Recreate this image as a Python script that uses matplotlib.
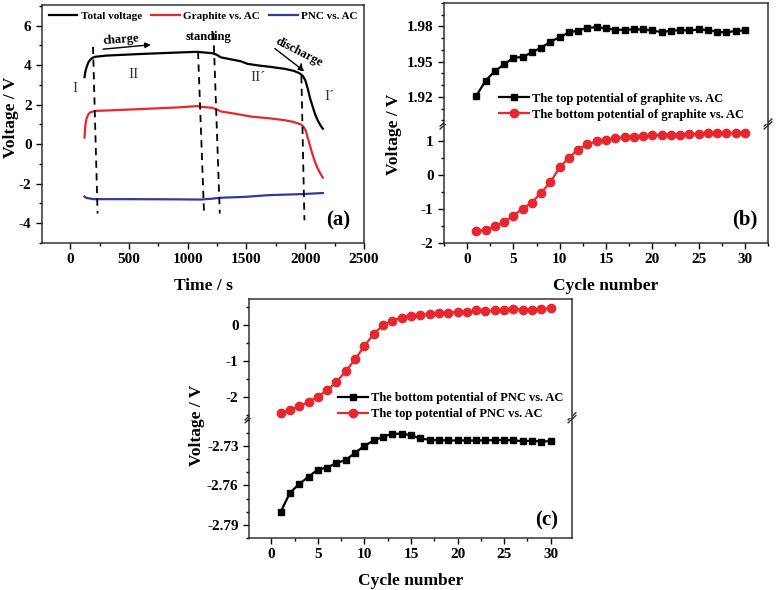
import matplotlib.pyplot as plt
import numpy as np
from matplotlib.ticker import MultipleLocator

plt.rcParams['font.family'] = ['Liberation Serif', 'DejaVu Serif']
plt.rcParams['font.weight'] = 'bold'
plt.rcParams['axes.labelweight'] = 'bold'
plt.rcParams['axes.unicode_minus'] = False

RED = '#e8262d'
BLUE = '#2e3b9c'

# ---- data (a): voltage profile during one cycle
total_t = [122, 130, 142, 155, 171, 190, 214, 313, 600, 900, 1082, 1110, 1210, 1250, 1281,
           1350, 1452, 1509, 1600, 1700, 1822, 1900, 1950, 1980, 2000, 2022, 2040, 2064,
           2085, 2107, 2130, 2150]
total_v = [3.40, 3.70, 3.95, 4.15, 4.28, 4.38, 4.43, 4.49, 4.57, 4.64, 4.68, 4.66, 4.61, 4.52,
           4.40, 4.32, 4.20, 4.07, 3.99, 3.92, 3.82, 3.72, 3.60, 3.45, 3.25, 2.80, 2.35, 1.89,
           1.50, 1.20, 0.95, 0.79]
graph_t = [122, 128, 135, 142, 155, 171, 214, 313, 600, 900, 1082, 1110, 1210, 1250, 1281,
           1400, 1538, 1700, 1822, 1900, 1965, 1990, 2007, 2020, 2036, 2057, 2078, 2100,
           2121, 2140, 2150]
graph_v = [0.34, 0.90, 1.20, 1.35, 1.52, 1.62, 1.69, 1.71, 1.78, 1.86, 1.93, 1.90, 1.84, 1.76,
           1.66, 1.55, 1.40, 1.31, 1.22, 1.13, 1.00, 0.85, 0.65, 0.35, 0.03, -0.42, -0.81,
           -1.15, -1.40, -1.60, -1.69]
pnc_t = [122, 140, 199, 500, 900, 1110, 1200, 1281, 1500, 1680, 1993, 2050, 2150]
pnc_v = [-2.65, -2.72, -2.78, -2.78, -2.79, -2.80, -2.76, -2.71, -2.66, -2.58, -2.52, -2.50, -2.47]

# dashed boundaries (top point, bottom point)
dash_t = [(194, 233), (1088, 1139), (1219, 1273), (1965, 1993)]
dash_v = [(4.93, -3.51), (4.68, -3.51), (5.64, -3.51), (4.09, -3.85)]

# ---- data (b), (c): cycling
cycles = np.arange(1, 31)
graph_top = [1.921, 1.934, 1.942, 1.9478, 1.9534, 1.954, 1.958, 1.962, 1.967, 1.971,
             1.975, 1.9765, 1.979, 1.9793, 1.9785, 1.9772, 1.9772, 1.9775, 1.9775, 1.9766,
             1.9752, 1.9763, 1.9769, 1.9766, 1.9775, 1.9769, 1.9755, 1.9749, 1.9763, 1.9766]
graph_bottom = [-1.67, -1.62, -1.52, -1.38, -1.21, -1.00, -0.82, -0.53, -0.22, 0.22,
                0.50, 0.74, 0.90, 0.98, 1.03, 1.07, 1.10, 1.12, 1.14, 1.16,
                1.16, 1.17, 1.18, 1.19, 1.20, 1.23, 1.22, 1.22, 1.23, 1.24]
pnc_top = [-2.45, -2.37, -2.27, -2.15, -2.00, -1.82, -1.59, -1.29, -0.96, -0.59,
           -0.25, -0.01, 0.12, 0.20, 0.25, 0.28, 0.30, 0.34, 0.34, 0.36,
           0.37, 0.40, 0.39, 0.40, 0.41, 0.45, 0.42, 0.42, 0.45, 0.46]
pnc_bottom = [-2.7803, -2.7656, -2.759, -2.7534, -2.748, -2.7465, -2.743, -2.7407, -2.7353, -2.730,
              -2.7259, -2.7231, -2.7208, -2.7208, -2.7219, -2.7244, -2.7254, -2.7257, -2.7259, -2.7259,
              -2.7259, -2.7259, -2.7257, -2.7257, -2.7254, -2.7259, -2.7264, -2.7262, -2.7267, -2.7264]

W, H = 777, 590
fig = plt.figure(figsize=(W / 100, H / 100), dpi=100)


def box(l, t, r, b):
    return [l / W, 1 - b / H, (r - l) / W, (b - t) / H]


def style(ax):
    for s in ax.spines.values():
        s.set_linewidth(1.1)
        s.set_color('#333333')
    ax.tick_params(which='both', direction='out', top=False, right=False, labelsize=11)
    ax.tick_params(which='major', length=4, width=1)
    ax.tick_params(which='minor', length=2.5, width=1)


def breakmarks(ax, y):
    for x in (0, 1):
        for dy in (-0.012, 0.012):
            ax.plot([x - 0.012, x + 0.012], [y + dy - 0.03, y + dy + 0.03], color='#333333',
                    lw=1, transform=ax.transAxes, clip_on=False)


def ylab(x, y):
    fig.text(x / W, 1 - y / H, 'Voltage / V', rotation=90, fontsize=12.5, fontweight='bold',
             ha='center', va='center')


# ---------------- (a)
ax = fig.add_axes(box(42, 5, 364, 243))
style(ax)
ax.plot(total_t, total_v, color='black', lw=1.6, label='Total voltage')
ax.plot(graph_t, graph_v, color=RED, lw=1.6, label='Graphite vs. AC')
ax.plot(pnc_t, pnc_v, color=BLUE, lw=1.6, label='PNC vs. AC')
for tt, vv in zip(dash_t, dash_v):
    ax.plot(tt, vv, color='black', lw=1.3, ls=(0, (4, 3)))
ax.set_xlim(-240, 2500)
ax.set_ylim(-5, 7.05)
ax.xaxis.set_major_locator(MultipleLocator(500))
ax.xaxis.set_minor_locator(MultipleLocator(250))
ax.yaxis.set_major_locator(MultipleLocator(2))
ax.yaxis.set_minor_locator(MultipleLocator(1))
ax.set_xlabel('Time / s', fontsize=12.5, labelpad=8)
ylab(11, 117)
ax.legend(loc='upper center', ncol=3, frameon=False, fontsize=8, handlelength=2.6,
          handletextpad=0.3, columnspacing=0.8, borderaxespad=0.15, bbox_to_anchor=(0.5, 1.0))
ax.text(430, 5.3, 'charge', fontsize=9, ha='center', va='center', rotation=4)
ax.annotate('', xy=(709, 5.05), xytext=(256, 4.8),
            arrowprops=dict(arrowstyle='-|>', color='black', lw=1, mutation_scale=8))
ax.text(1179, 5.42, 'standing', fontsize=9, ha='center', va='center')
ax.text(1950, 4.65, 'discharge', fontsize=9, ha='center', va='center', rotation=-27)
ax.annotate('', xy=(2010, 3.61), xytext=(1723, 4.93),
            arrowprops=dict(arrowstyle='-|>', color='black', lw=1, mutation_scale=8))
for x, y, s in [(43, 2.82, 'I'), (536, 3.55, 'II'), (1595, 3.38, 'II\u00b4'), (2207, 2.4, 'I\u00b4')]:
    ax.text(x, y, s, fontsize=11, fontweight='normal', ha='center', va='center', color='#333333')
ax.text(2280, -3.85, '(a)', fontsize=15, ha='center', va='center')

# ---------------- (b)
axt = fig.add_axes(box(444, 3, 768, 124))
axb = fig.add_axes(box(444, 124, 768, 243))
for a in (axt, axb):
    style(a)
    a.set_xlim(-2.5, 32.5)
    a.xaxis.set_major_locator(MultipleLocator(5))
    a.xaxis.set_minor_locator(MultipleLocator(2.5))
axt.set_zorder(3)
axt.spines['bottom'].set_visible(False)
axb.spines['top'].set_visible(False)
axt.tick_params(which='both', bottom=False, labelbottom=False)
l1, = axt.plot(cycles, graph_top, color='black', lw=1.6, marker='s', ms=5,
               label='The top potential of graphite vs. AC')
l2, = axb.plot(cycles, graph_bottom, color=RED, lw=1.6, marker='o', ms=6,
               label='The bottom potential of graphite vs. AC')
axt.set_ylim(1.897, 2.0)
axt.yaxis.set_major_locator(MultipleLocator(0.03))
axt.yaxis.set_minor_locator(MultipleLocator(0.01))
axb.set_ylim(-2.01, 1.49)
axb.yaxis.set_major_locator(MultipleLocator(1))
axb.yaxis.set_minor_locator(MultipleLocator(0.5))
axt.legend(handles=[l1, l2], loc='lower left', bbox_to_anchor=(0.135, -0.065), frameon=False,
           fontsize=9, handlelength=2.4, handletextpad=0.25, labelspacing=0.3)
axb.set_xlabel('Cycle number', fontsize=12.5, labelpad=8)
breakmarks(axb, 1.0)
axb.text(30, -1.33, '(b)', fontsize=15, ha='center', va='center')
ylab(394, 134)

# ---------------- (c)
act = fig.add_axes(box(249, 299, 572, 417.7))
acb = fig.add_axes(box(249, 417.7, 572, 538))
for a in (act, acb):
    style(a)
    a.set_xlim(-2.4, 32.3)
    a.xaxis.set_major_locator(MultipleLocator(5))
    a.xaxis.set_minor_locator(MultipleLocator(2.5))
act.set_zorder(3)
act.spines['bottom'].set_visible(False)
acb.spines['top'].set_visible(False)
act.tick_params(which='both', bottom=False, labelbottom=False)
m2, = act.plot(cycles, pnc_top, color=RED, lw=1.6, marker='o', ms=6,
               label='The top potential of PNC vs. AC')
m1, = acb.plot(cycles, pnc_bottom, color='black', lw=1.6, marker='s', ms=5,
               label='The bottom potential of PNC vs. AC')
act.set_ylim(-2.587, 0.72)
act.yaxis.set_major_locator(MultipleLocator(1))
act.yaxis.set_minor_locator(MultipleLocator(0.5))
acb.set_ylim(-2.80, -2.7086)
acb.yaxis.set_major_locator(MultipleLocator(0.03))
acb.yaxis.set_minor_locator(MultipleLocator(0.01))
act.legend(handles=[m1, m2], loc='lower left', bbox_to_anchor=(0.24, -0.115), frameon=False,
           fontsize=9, handlelength=2.4, handletextpad=0.25, labelspacing=0.3)
acb.set_xlabel('Cycle number', fontsize=12.5, labelpad=8)
breakmarks(acb, 1.0)
acb.text(29.6, -2.7867, '(c)', fontsize=15, ha='center', va='center')
ylab(197, 425)

fig.savefig('out.png', dpi=100, facecolor='white')
